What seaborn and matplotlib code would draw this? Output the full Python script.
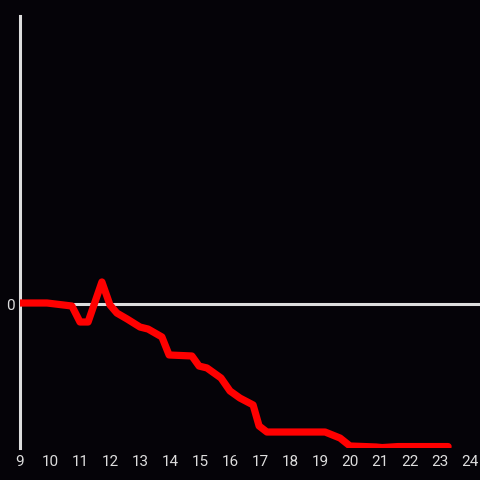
import numpy as np
import pandas as pd
import matplotlib
matplotlib.use("Agg")
import matplotlib.pyplot as plt
import seaborn as sns

# hour of day and relative change
hours = [9.0, 9.9, 10.73, 11.0, 11.27, 11.73, 12.0, 12.23, 12.57, 13.0, 13.27,
         13.73, 13.97, 14.73, 14.97, 15.23, 15.7, 16.0, 16.33, 16.77, 16.97,
         17.23, 19.17, 19.67, 20.0, 20.87, 21.07, 21.6, 23.27]
change = [0.007, 0.007, -0.014, -0.125, -0.125, 0.153, -0.007, -0.063, -0.104,
          -0.160, -0.174, -0.229, -0.354, -0.361, -0.431, -0.444, -0.514,
          -0.604, -0.653, -0.701, -0.847, -0.889, -0.889, -0.931, -0.986,
          -0.993, -0.997, -0.990, -0.990]
xticks = list(range(9, 25))

df = pd.DataFrame({"hour": hours, "change": change})

bg = "#050308"
fg = "#dddddd"
sns.set_theme(style="dark", rc={"axes.facecolor": bg, "figure.facecolor": bg})
plt.rcParams["font.family"] = ["Roboto", "DejaVu Sans"]

fig = plt.figure(figsize=(4.8, 4.8), dpi=100)
ax = fig.add_axes([20 / 480, 32 / 480, 460 / 480, 432 / 480])
ax.axhline(0, color=fg, linewidth=2.2, zorder=1)
sns.lineplot(data=df, x="hour", y="change", color="#ff0000", linewidth=5.2, ax=ax, zorder=3)

ax.set_xlim(9, 24 + 10 / 30)
ax.set_ylim(-1, 2)
ax.set_xticks(xticks)
ax.set_xticklabels([str(t) for t in xticks])
ax.set_yticks([0])
ax.set_yticklabels(["0"])
ax.tick_params(colors=fg, labelsize=11, length=0, pad=5)
ax.tick_params(axis="y", pad=4)
ax.set_xlabel("")
ax.set_ylabel("")
ax.grid(False)
for s in ["top", "right", "bottom"]:
    ax.spines[s].set_visible(False)
ax.spines["left"].set_color(fg)
ax.spines["left"].set_linewidth(2.2)

fig.savefig("out.png", dpi=100, facecolor=bg)
